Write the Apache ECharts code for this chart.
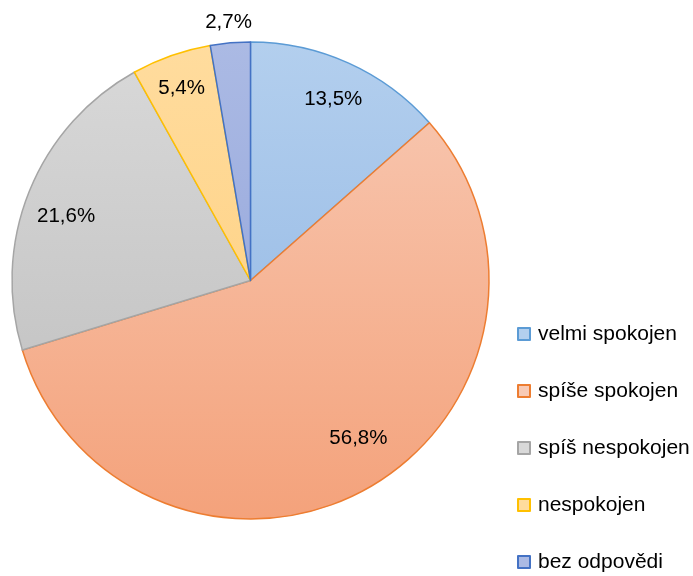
<!DOCTYPE html>
<html>
<head>
<meta charset="utf-8">
<script src="https://cdn.jsdelivr.net/npm/echarts@6/dist/echarts.min.js"></script>
<style>html,body{margin:0;padding:0;background:#fff}#c{width:693px;height:576px}</style>
</head>
<body>
<div id="c"></div>
<script>
const categories = ['velmi spokojen', 'spíše spokojen', 'spíš nespokojen', 'nespokojen', 'bez odpovědi'];
const values = [13.5, 56.8, 21.6, 5.4, 2.7];
const borderColors = ['#5b9bd5', '#ed7d31', '#a5a5a5', '#ffc000', '#4472c4'];
const topColors = ['#b3cfee', '#f8cab5', '#d9d9d9', '#ffdc9e', '#abbae4'];
const bottomColors = ['#8db3e2', '#f4a27b', '#bcbcbc', '#fecd78', '#8d9fd8'];

const CX = 250.5, CY = 280.5, R = 238.5;
const FONT = 'Liberation Sans, Arial, sans-serif';

function grad(i) {
  return new echarts.graphic.LinearGradient(0, CY - R, 0, CY + R, [
    {offset: 0, color: topColors[i]},
    {offset: 1, color: bottomColors[i]}
  ], true);
}
function fmt(v) { return v.toFixed(1).replace('.', ',') + '%'; }

const mainData = categories.map((c, i) => ({
  name: c, value: values[i],
  itemStyle: {color: grad(i), borderColor: borderColors[i], borderWidth: 1.5}
}));

const labelOffsets = [[0, 2], [10, -18], [2, 11], [-2, -3], [0, 0]];
const innerLabelData = categories.map((c, i) => ({
  name: c, value: values[i],
  label: {show: i !== 4, offset: labelOffsets[i]}
}));
const outerLabelData = categories.map((c, i) => ({
  name: c, value: values[i],
  label: {show: i === 4}
}));

const chart = echarts.init(document.getElementById('c'), null, {renderer: 'canvas'});
chart.setOption({
  animation: false,
  backgroundColor: '#ffffff',
  legend: {
    orient: 'vertical',
    left: 512,
    top: 317,
    height: 300,
    itemWidth: 12,
    itemHeight: 12,
    itemGap: 33,
    icon: 'rect',
    data: categories,
    textStyle: {fontFamily: FONT, fontSize: 21, color: '#000', lineHeight: 24, padding: [0, 0, 0, 3]}
  },
  series: [
    {
      type: 'pie',
      center: [CX, CY],
      radius: [0, R],
      startAngle: 90,
      clockwise: true,
      silent: true,
      label: {show: false},
      labelLine: {show: false},
      data: mainData
    },
    {
      type: 'pie',
      center: [CX, CY],
      radius: [R * 0.66, R],
      startAngle: 90,
      clockwise: true,
      silent: true,
      itemStyle: {color: 'rgba(0,0,0,0)', borderWidth: 0},
      label: {position: 'inside', fontFamily: FONT, fontSize: 20.5, color: '#000',
        formatter: p => fmt(p.value)},
      labelLine: {show: false},
      legendHoverLink: false,
      data: innerLabelData
    },
    {
      type: 'pie',
      center: [CX, CY],
      radius: [R + 6, R + 30],
      startAngle: 90,
      clockwise: true,
      silent: true,
      itemStyle: {color: 'rgba(0,0,0,0)', borderWidth: 0},
      label: {position: 'inside', fontFamily: FONT, fontSize: 20.5, color: '#000',
        formatter: p => fmt(p.value)},
      labelLine: {show: false},
      data: outerLabelData
    }
  ]
});
</script>
</body>
</html>
